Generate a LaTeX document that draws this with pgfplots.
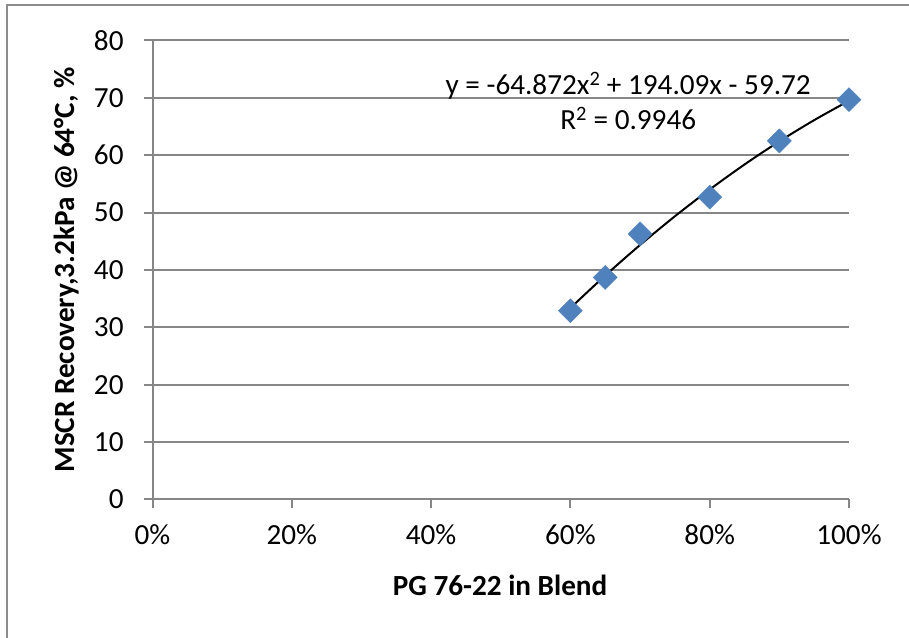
\documentclass[border=0pt]{standalone}
\usepackage{pgfplots}
\pgfplotsset{compat=1.18}
\usepackage{fontspec}
\setmainfont{Carlito}
\definecolor{gridgray}{RGB}{134,134,134}
\definecolor{framegray}{RGB}{140,140,140}
\definecolor{markblue}{RGB}{79,129,189}

\begin{document}
\fontsize{29.3}{35}\selectfont
\begin{tikzpicture}[x=1bp,y=1bp]
\useasboundingbox (0,0) rectangle (909,638);
% chart area frame (runs past the right and bottom edges)
\draw[framegray, line width=2bp] (7,-10) -- (7,633) -- (925,633);
\begin{axis}[
  at={(152.5bp,138.5bp)}, anchor=south west,
  scale only axis, width=696.5bp, height=459bp,
  xmin=0, xmax=1, ymin=0, ymax=80,
  axis lines*=left,
  axis line style={gridgray, line width=2bp},
  xtick={0,0.2,0.4,0.6,0.8,1},
  xticklabels={0\%,20\%,40\%,60\%,80\%,100\%},
  ytick={0,10,20,30,40,50,60,70,80},
  ymajorgrids,
  major grid style={gridgray, line width=2bp},
  tick style={gridgray, line width=2bp},
  tick align=outside, major tick length=9bp,
  /pgf/number format/assume math mode=true,
  ticklabel style={font=\fontsize{29.3}{35}\selectfont, text=black},
  x tick label style={yshift=-6bp},
  y tick label style={xshift=-10bp},
  xlabel={\bfseries PG 76-22 in Blend},
  ylabel={\bfseries MSCR Recovery,3.2kPa @ 64°C, \%},
  xlabel style={at={(axis description cs:0.499,-0.186)}, anchor=center},
  ylabel style={at={(axis description cs:-0.124,0.5)}, anchor=center},
  clip=false,
]
% polynomial trend line, order 2
\addplot[black, line width=2bp, smooth] coordinates {
  (0.60,33.38) (0.65,39.03) (0.70,44.36) (0.75,49.36) (0.80,54.03)
  (0.85,58.39) (0.90,62.42) (0.95,66.12) (1.00,69.50)
};
% measured recovery
\addplot[only marks, mark=square*, mark size=8.5bp,
  mark options={rotate=45, fill=markblue, draw=markblue}] coordinates {
  (0.60,32.9) (0.65,38.7) (0.70,46.3) (0.80,52.7) (0.90,62.5) (1.00,69.7)
};
\node[anchor=center] at (axis cs:0.683,72.2) {y = -64.872x\textsuperscript{2} + 194.09x - 59.72};
\node[anchor=center] at (axis cs:0.683,66.4) {R\textsuperscript{2} = 0.9946};
\end{axis}
\end{tikzpicture}
\end{document}
